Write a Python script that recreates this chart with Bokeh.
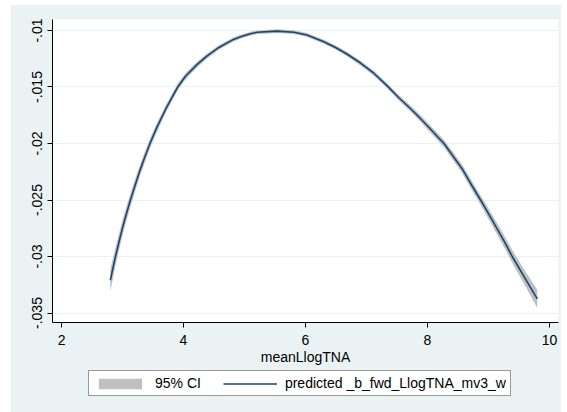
from bokeh.plotting import figure
from bokeh.layouts import column
from bokeh.models import Range1d, FixedTicker, CustomJSTickFormatter, Legend, LegendItem
from bokeh.embed import file_html
from bokeh.resources import INLINE

# Data
x_vals = [2.80, 2.885, 2.94, 3.005, 3.066, 3.13, 3.20, 3.285, 3.36, 3.45, 3.569, 3.705, 3.803,
          3.905, 4.033, 4.225, 4.388, 4.58, 4.798, 4.934, 5.098, 5.208, 5.535, 5.809, 6.025,
          6.30, 6.492, 6.685, 6.902, 7.12, 7.34, 7.53, 7.72, 7.885, 8.07, 8.27, 8.57, 8.72,
          8.87, 9.01, 9.14, 9.27, 9.39, 9.60, 9.80]
predicted = [-0.0321, -0.0300, -0.02876, -0.02736, -0.02617, -0.0250, -0.02381, -0.0224,
             -0.02128, -0.0200, -0.01851, -0.01699, -0.01601, -0.0150, -0.01405, -0.0130,
             -0.01225, -0.0115, -0.01085, -0.01055, -0.01028, -0.01016, -0.01006, -0.01015,
             -0.0104, -0.0110, -0.0115, -0.0121, -0.01288, -0.01378, -0.0149, -0.01595,
             -0.0169, -0.01779, -0.01885, -0.0200, -0.02225, -0.02365, -0.0250, -0.0263,
             -0.02753, -0.02878, -0.0300, -0.03193, -0.03375]
ci_halfwidth = [0.0010, 0.0008, 0.00075, 0.0007, 0.00065, 0.0006, 0.00055, 0.0005, 0.00048,
                0.00045, 0.0004, 0.00035, 0.00032, 0.0003, 0.00028, 0.00025, 0.00022, 0.0002,
                0.00019, 0.00018, 0.00017, 0.00017, 0.00017, 0.00017, 0.00017, 0.00018,
                0.00019, 0.0002, 0.00021, 0.00022, 0.00024, 0.00025, 0.00027, 0.00029,
                0.00031, 0.00033, 0.00038, 0.0004, 0.00043, 0.00046, 0.0005, 0.00053,
                0.00057, 0.00065, 0.0008]
ci_upper = [y + h for y, h in zip(predicted, ci_halfwidth)]
ci_lower = [y - h for y, h in zip(predicted, ci_halfwidth)]

x_ticks = [2, 4, 6, 8, 10]
y_ticks = [-0.035, -0.03, -0.025, -0.02, -0.015, -0.01]
x_title = "meanLlogTNA"
ci_label = "95% CI"
line_label = "predicted _b_fwd_LlogTNA_mv3_w"

BG = "#EAF2F3"
FONT = "Liberation Sans"
CI_COLOR = "#C0C0C0"
LINE_COLOR = "#1A476F"

p = figure(frame_width=506, frame_height=303, output_backend="svg", toolbar_location=None,
           x_range=Range1d(1.852, 10.148), y_range=Range1d(-0.03584, -0.009027),
           min_border_left=41, min_border_top=14, min_border_right=3, min_border_bottom=45)
p.background_fill_color = "white"
p.border_fill_color = BG
p.outline_line_color = None

p.varea(x=x_vals, y1=ci_lower, y2=ci_upper, fill_color=CI_COLOR, fill_alpha=1.0)
p.line(x=x_vals, y=predicted, line_color=LINE_COLOR, line_width=1.6)

# axes
p.xaxis.ticker = FixedTicker(ticks=x_ticks)
p.yaxis.ticker = FixedTicker(ticks=y_ticks)
p.yaxis.formatter = CustomJSTickFormatter(code="""
    let s = tick.toFixed(3).replace(/0+$/, '');
    return s.replace('-0.', '-.');
""")
for ax in (p.xaxis[0], p.yaxis[0]):
    ax.axis_line_color = "black"
    ax.axis_line_width = 1
    ax.major_tick_line_color = "black"
    ax.major_tick_out = 5
    ax.major_tick_in = 0
    ax.minor_tick_line_color = None
    ax.major_label_text_font = FONT
    ax.major_label_text_font_size = "14px"
    ax.major_label_text_color = "black"
p.yaxis.major_label_orientation = "vertical"
p.yaxis.major_label_standoff = 5
p.xaxis.major_label_standoff = 7
p.xaxis.axis_label = x_title
p.xaxis.axis_label_text_font = FONT
p.xaxis.axis_label_text_font_size = "14px"
p.xaxis.axis_label_text_font_style = "normal"
p.xaxis.axis_label_text_color = "black"
p.xaxis.axis_label_standoff = 1

p.xgrid.grid_line_color = None
p.ygrid.ticker = FixedTicker(ticks=y_ticks)
p.ygrid.grid_line_color = BG
p.ygrid.grid_line_width = 1.2

# legend strip below the plot (its key glyphs sit outside the visible range)
lg = figure(width=550, height=45, output_backend="svg", toolbar_location=None,
            x_range=Range1d(0, 1), y_range=Range1d(0, 1),
            x_axis_type=None, y_axis_type=None,
            min_border_left=0, min_border_right=0, min_border_top=0, min_border_bottom=0)
lg.background_fill_color = BG
lg.border_fill_color = BG
lg.outline_line_color = None
lg.grid.visible = False
ci_key = lg.varea(x=[5, 6], y1=[5, 5], y2=[6, 6], fill_color=CI_COLOR, fill_alpha=1.0)
ln_key = lg.line(x=[5, 6], y=[5, 5], line_color=LINE_COLOR, line_width=1.6)

legend = Legend(items=[LegendItem(label=ci_label, renderers=[ci_key]),
                       LegendItem(label=line_label, renderers=[ln_key])],
                location=(36, 16), orientation="horizontal")
legend.border_line_color = "#333333"
legend.border_line_width = 1
legend.background_fill_color = "white"
legend.background_fill_alpha = 1.0
legend.padding = 4
legend.margin = 0
legend.spacing = 22
legend.label_standoff = 8
legend.glyph_width = 54
legend.glyph_height = 13
legend.label_height = 15
legend.label_text_font = FONT
legend.label_text_font_size = "14px"
legend.label_text_color = "black"
lg.add_layout(legend, "center")

layout = column(p, lg, spacing=0)
layout.margin = (5, 6, 0, 11)
layout.styles = {"background-color": BG}

open("out.html", "w").write(file_html(layout, INLINE))
